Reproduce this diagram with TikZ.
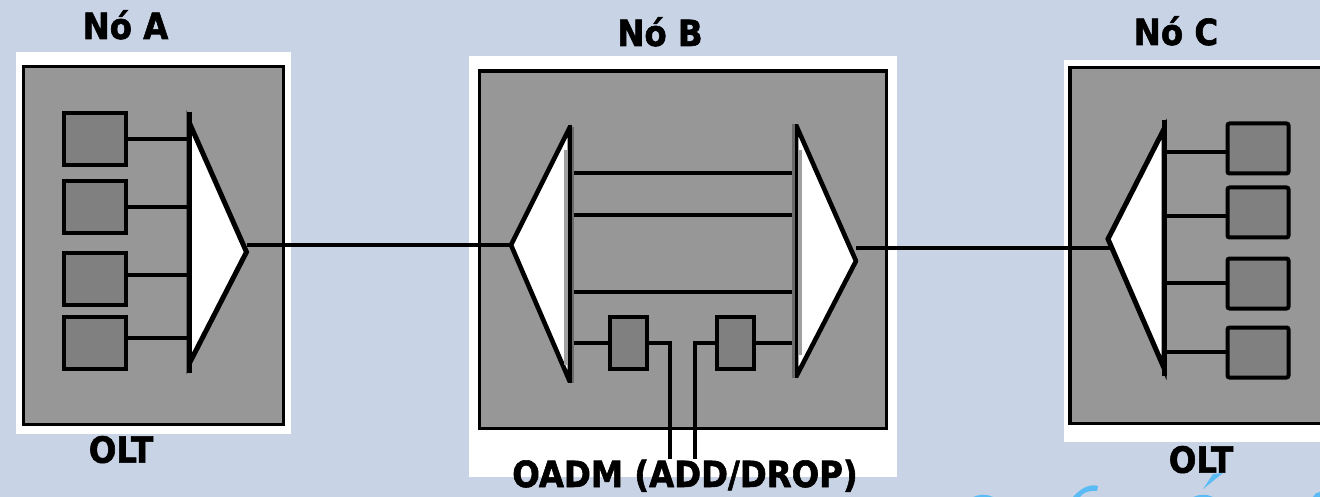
\documentclass[tikz,border=0pt]{standalone}
\usepackage{fontspec}
\setmainfont{DejaVu Sans Condensed}[BoldFeatures={FakeBold=1.6}]
\definecolor{bgblue}{HTML}{C8D3E5}
\definecolor{panel}{HTML}{979797}
\definecolor{unitgray}{HTML}{808080}
\definecolor{swoosh}{HTML}{5BBBF5}
\definecolor{barlight}{HTML}{A0A0A0}
\definecolor{bardark}{HTML}{6A6A6A}
\tikzset{
  x=1pt,y=-1pt,
  lbl/.style={font=\bfseries\fontsize{36}{40}\selectfont,inner sep=0pt,text=black,anchor=base},
  mat/.style={fill=white,draw=none},
  nodebox/.style={fill=panel,draw=black,line width=3.8pt,inner sep=0pt,outer sep=0pt,anchor=north west},
  unit/.style={fill=unitgray,draw=black,line width=4pt,inner sep=0pt,outer sep=0pt,anchor=north west},
  tri/.style={fill=white,draw=black,line width=5pt,line join=miter},
  trib/.style={fill=white,draw=black,line width=4.6pt,line join=bevel},
  wire/.style={draw=black,line width=3.8pt},
  bar/.style={draw=black,line width=5pt},
}
\begin{document}
\begin{tikzpicture}
\useasboundingbox (0,0) rectangle (1320,497);
\fill[bgblue] (0,0) rectangle (1320,497);
% mats
\fill[mat] (16,52) rectangle (291,434);
\fill[mat] (469,56) rectangle (897,477);
\fill[mat] (1064,60) rectangle (1320,442);
% swoosh fragments
\fill[swoosh] (1213,474) -- (1223,473) -- (1203,489) -- cycle;
\fill[swoosh] (973,497) .. controls (980,494) and (987,494) .. (993,497) -- cycle;
\fill[swoosh] (1193,497) .. controls (1200,494) and (1207,494) .. (1213,497) -- cycle;
\fill[swoosh] (1073,497) .. controls (1082,487) and (1090,484) .. (1098,486) -- (1097,491) .. controls (1088,490) and (1083,493) .. (1080,497) -- cycle;
\fill[swoosh] (1313,497) .. controls (1314,494) and (1317,492) .. (1320,492) -- (1320,497) -- cycle;
% boxes
\node[nodebox,minimum width=260pt,minimum height=358pt] (boxA) at (23.5,66.5) {};
\node[nodebox,minimum width=407pt,minimum height=357.5pt] (boxB) at (479.5,71) {};
\draw[black,line width=3.6pt,fill=panel] (1320,67.5) -- (1070,67.5) -- (1070,423.5) -- (1320,423.5);
% coordinates of the triangles
\coordinate (a1) at (189,122); \coordinate (a2) at (189,364); \coordinate (a3) at (246.5,252);
\coordinate (b1) at (570,127); \coordinate (b2) at (570,382); \coordinate (b3) at (511,245);
\coordinate (c1) at (796,125); \coordinate (c2) at (796,377); \coordinate (c3) at (856,261);
\coordinate (d1) at (1164,129); \coordinate (d2) at (1164,368); \coordinate (d3) at (1108,239);
% links
\draw[wire] (a3 |- 0,245) -- (b3 |- 0,245);
\draw[wire] (c3 |- 0,248) -- (1112,248);
% Node A
\draw[tri] (a1) -- (a3) -- (a2) -- cycle;
\draw[bar] (189,112) -- (189,373);
\foreach \n/\y/\yy in {1/113/139,2/181/207,3/253/275,4/317/338}{
  \node[unit,minimum width=62pt,minimum height=52pt] (ua\n) at (63.5,\y) {};
  \draw[wire] (ua\n.east |- 0,\yy) -- (189,\yy);
}
% Node B
\draw[trib] (b1) -- (b3) -- (b2) -- cycle;
\fill[barlight] (564,150) rectangle (569,365);
\fill[bardark] (571,127) rectangle (574,383);
\draw[draw=black,line width=3.4pt] (570,125) -- (570,383);
\draw[trib] (c1) -- (c3) -- (c2) -- cycle;
\fill[barlight] (798,150) rectangle (802,355);
\fill[bardark] (792,124) rectangle (795,378);
\draw[draw=black,line width=3.4pt] (796.5,124) -- (796.5,378);
\foreach \y in {173,215,292}{\draw[wire] (574,\y) -- (792,\y);}
\node[unit,minimum width=37pt,minimum height=52pt] (ub1) at (609.5,317) {};
\node[unit,minimum width=37pt,minimum height=52pt] (ub2) at (716.5,317) {};
\draw[wire] (574,343) -- (ub1.west |- 0,343);
\draw[wire] (ub2.east |- 0,343) -- (792,343);
\draw[wire,line join=miter] (ub1.east |- 0,343) -- (670,343) -- (670,459);
\draw[wire,line join=miter] (ub2.west |- 0,343) -- (695,343) -- (695,459);
% Node C
\draw[tri] (d1) -- (d3) -- (d2) -- cycle;
\draw[bar] (1164,120) -- (1164,376);
\foreach \n/\y/\yy in {1/123.5/152,2/187.5/216,3/258.5/283,4/327.5/352}{
  \node[unit,rounded corners=2pt,minimum width=61pt,minimum height=50pt] (uc\n) at (1227.5,\y) {};
  \draw[wire] (1164,\yy) -- (uc\n.west |- 0,\yy);
}
% labels
\node[lbl] (nA) at (125.5,39) {Nó A};
\node[lbl] (nB) at (660,46) {Nó B};
\node[lbl] (nC) at (1176,45) {Nó C};
\node[lbl] (oA) at (121,462.7) {OLT};
\node[lbl] (oB) at (685,487) {OADM (ADD/DROP)};
\node[lbl] (oC) at (1201,472.7) {OLT};
\end{tikzpicture}
\end{document}
